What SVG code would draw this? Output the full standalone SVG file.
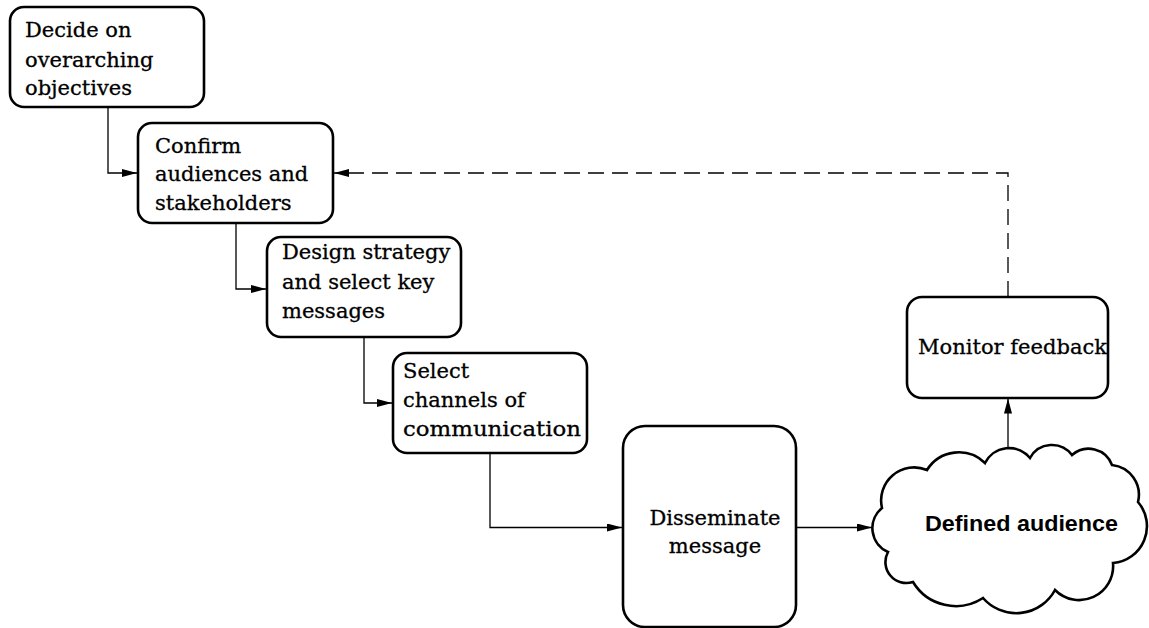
<svg xmlns="http://www.w3.org/2000/svg" width="1149" height="628" viewBox="0 0 1149 628">
<style>
.box{fill:#fff;stroke:#000;stroke-width:2.6}
.t{font-family:"DejaVu Serif","Liberation Serif",serif;font-size:21px;fill:#000;stroke:#000;stroke-width:0.3}
.tb{font-family:"Liberation Sans",Arial,sans-serif;font-size:22.5px;font-weight:bold;fill:#000}
.c{fill:none;stroke:#000;stroke-width:1.3}
.d{fill:none;stroke:#000;stroke-width:1.3;stroke-dasharray:16 8}
</style>
<defs>
<marker id="ah" markerUnits="userSpaceOnUse" markerWidth="16" markerHeight="9" refX="15" refY="4" orient="auto">
<path d="M0,0 L15,4 L0,8 Z" fill="#000" stroke="none"/>
</marker>
</defs>
<rect width="1149" height="628" fill="#fff"/>
<g id="connectors">
<path class="c" d="M108,107 V173 H137" marker-end="url(#ah)"/>
<path class="c" d="M236,223 V289 H266" marker-end="url(#ah)"/>
<path class="c" d="M364,337 V403 H392" marker-end="url(#ah)"/>
<path class="c" d="M490,453 V527.5 H622" marker-end="url(#ah)"/>
<path class="c" d="M796,527.5 H872" marker-end="url(#ah)"/>
<path class="c" d="M1008,448 V398.5" marker-end="url(#ah)"/>
<path class="d" d="M1008,297 V173 H334" marker-end="url(#ah)"/>
</g>
<g id="n1">
<rect class="box" x="10" y="7" width="194" height="100" rx="14"/>
<text class="t" x="25" y="37.3">Decide on</text>
<text class="t" x="25" y="66.5">overarching</text>
<text class="t" x="25" y="94.5">objectives</text>
</g>
<g id="n2">
<rect class="box" x="138" y="123" width="195" height="100" rx="14"/>
<text class="t" x="155" y="152.7">Confirm</text>
<text class="t" x="155" y="181.3">audiences and</text>
<text class="t" x="155" y="210">stakeholders</text>
</g>
<g id="n3">
<rect class="box" x="267" y="237" width="194" height="100" rx="14"/>
<text class="t" x="282" y="259.3">Design strategy</text>
<text class="t" x="282" y="289">and select key</text>
<text class="t" x="282" y="318.3">messages</text>
</g>
<g id="n4">
<rect class="box" x="393" y="353" width="194" height="100" rx="14"/>
<text class="t" x="403" y="378.3">Select</text>
<text class="t" x="403" y="406.7">channels of</text>
<text class="t" x="403" y="436" textLength="178" lengthAdjust="spacingAndGlyphs">communication</text>
</g>
<g id="n5">
<rect class="box" x="623" y="426" width="173" height="201" rx="22"/>
<text class="t" x="715" y="525" text-anchor="middle">Disseminate</text>
<text class="t" x="715" y="553" text-anchor="middle">message</text>
</g>
<g id="n6">
<path class="box" stroke-width="2.2" d="M927,470 A37.5,37.5 0 0 1 985,463 A27,27 0 0 1 1030,458 A25,25 0 0 1 1072,455 A25,25 0 0 1 1112,465 A30,30 0 0 1 1138,502 A37,37 0 0 1 1113,563 A34,34 0 0 1 1055,590 A44,44 0 0 1 983,598 A50,50 0 0 1 913,582 A21,21 0 0 1 888,552 A26,26 0 0 1 882,508 A33,33 0 0 1 927,470 Z"/>
<text class="tb" x="925" y="531" textLength="193" lengthAdjust="spacingAndGlyphs">Defined audience</text>
</g>
<g id="n7">
<rect class="box" x="907" y="297" width="201" height="101" rx="15"/>
<text class="t" x="918" y="354" textLength="189" lengthAdjust="spacingAndGlyphs">Monitor feedback</text>
</g>
</svg>
